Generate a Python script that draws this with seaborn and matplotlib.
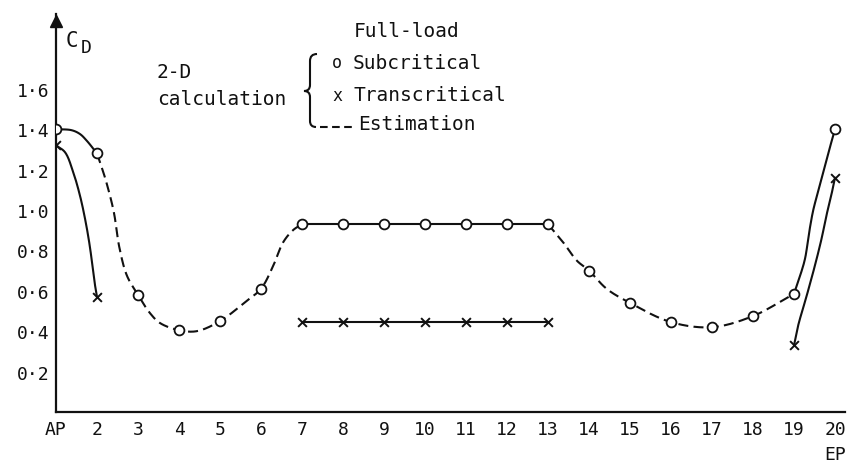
import numpy as np
import pandas as pd
import matplotlib
matplotlib.use("Agg")
import matplotlib.pyplot as plt
import matplotlib.transforms as mtransforms
from matplotlib.path import Path
from matplotlib.patches import PathPatch
from matplotlib.lines import Line2D
import seaborn as sns

# ---- data -------------------------------------------------------------
station_labels = ["AP", "2", "3", "4", "5", "6", "7", "8", "9", "10",
                  "11", "12", "13", "14", "15", "16", "17", "18", "19", "20\nEP"]
station_pos = list(range(1, 21))

# full-load, subcritical drag coefficient at every station
subcritical = [1.40, 1.28, 0.58, 0.405, 0.45, 0.61, 0.93, 0.93, 0.93, 0.93,
               0.93, 0.93, 0.93, 0.70, 0.54, 0.445, 0.42, 0.475, 0.585, 1.40]

# full-load, transcritical drag coefficient
trans_pos = [1, 2, 7, 8, 9, 10, 11, 12, 13, 19, 20]
transcritical = [1.32, 0.57, 0.445, 0.445, 0.445, 0.445, 0.445, 0.445, 0.445,
                 0.33, 1.16]

# points along the faired curves between stations
sub_aft_x = [1.38, 1.585, 1.75]
sub_aft_y = [1.395, 1.376, 1.343]
est_aft_x = [2.21, 2.41, 2.54, 2.73, 3.29, 3.54, 4.43, 5.65, 6.29, 6.54, 6.78]
est_aft_y = [1.15, 0.99, 0.82, 0.675, 0.49, 0.44, 0.40, 0.55, 0.72, 0.84, 0.90]
est_fwd_x = [13.37, 13.7, 14.43]
est_fwd_y = [0.84, 0.75, 0.61]
sub_fwd_x = [19.15, 19.27, 19.37, 19.47, 19.60, 19.78]
sub_fwd_y = [0.675, 0.76, 0.89, 1.00, 1.10, 1.24]
trans_aft_x = [1.22, 1.42, 1.585, 1.71, 1.81, 1.89, 1.95]
trans_aft_y = [1.286, 1.187, 1.071, 0.955, 0.84, 0.724, 0.63]
trans_fwd_x = [19.10, 19.31, 19.51, 19.67, 19.79, 19.89]
trans_fwd_y = [0.427, 0.576, 0.725, 0.856, 0.972, 1.055]

y_ticks = [0.2, 0.4, 0.6, 0.8, 1.0, 1.2, 1.4, 1.6]
y_tick_labels = ["0·2", "0·4", "0·6", "0·8", "1·0", "1·2", "1·4", "1·6"]

# ---- helpers ----------------------------------------------------------
X_PX, Y_PX = 41.0, 202.0   # drawn size of one station / one unit of C_D


def faired(xs, ys, n=30):
    """Centripetal Catmull-Rom curve through the given points."""
    pts = np.column_stack([np.asarray(xs, float) * X_PX,
                           np.asarray(ys, float) * Y_PX])
    ext = np.vstack([2 * pts[0] - pts[1], pts, 2 * pts[-1] - pts[-2]])
    segs = []
    for i in range(len(pts) - 1):
        p0, p1, p2, p3 = ext[i], ext[i + 1], ext[i + 2], ext[i + 3]
        t0 = 0.0
        t1 = t0 + np.linalg.norm(p1 - p0) ** 0.5
        t2 = t1 + np.linalg.norm(p2 - p1) ** 0.5
        t3 = t2 + np.linalg.norm(p3 - p2) ** 0.5
        t = np.linspace(t1, t2, n)[:, None]
        a1 = (t1 - t) / (t1 - t0) * p0 + (t - t0) / (t1 - t0) * p1
        a2 = (t2 - t) / (t2 - t1) * p1 + (t - t1) / (t2 - t1) * p2
        a3 = (t3 - t) / (t3 - t2) * p2 + (t - t2) / (t3 - t2) * p3
        b1 = (t2 - t) / (t2 - t0) * a1 + (t - t0) / (t2 - t0) * a2
        b2 = (t3 - t) / (t3 - t1) * a2 + (t - t1) / (t3 - t1) * a3
        c = (t2 - t) / (t2 - t1) * b1 + (t - t1) / (t2 - t1) * b2
        segs.append(c if i == 0 else c[1:])
    out = np.vstack(segs)
    return out[:, 0] / X_PX, out[:, 1] / Y_PX


def merged(pos, vals, first, last, gx, gy):
    xs = [p for p in pos if first <= p <= last] + list(gx)
    ys = [v for p, v in zip(pos, vals) if first <= p <= last] + list(gy)
    order = np.argsort(xs)
    return np.asarray(xs)[order], np.asarray(ys)[order]


# ---- figure -----------------------------------------------------------
sns.set_style("white")
plt.rcParams["font.family"] = ["DejaVu Sans Mono", "DejaVu Sans"]
plt.rcParams["lines.scale_dashes"] = False

W, H = 851, 464
fig = plt.figure(figsize=(W / 100, H / 100), dpi=100)
ax = fig.add_axes([56 / W, (H - 413) / H, (845 - 56) / W, (413 - 15) / H])
ax.set_xlim(1, 1 + (845 - 56) / X_PX)
ax.set_ylim(0, (413 - 15) / Y_PX)

ink = "#111111"
LW = 1.5
DASH = [7.2, 3.8]   # points


def curve(x, y, dashed=False):
    line, = ax.plot(x, y, color=ink, lw=LW, zorder=3, solid_capstyle="round")
    if dashed:
        line.set_dashes(DASH)
        line.set_dash_capstyle("butt")


# subcritical
curve(*faired(*merged(station_pos, subcritical, 1, 2, sub_aft_x, sub_aft_y)))
curve(*faired(*merged(station_pos, subcritical, 2, 7, est_aft_x, est_aft_y)), dashed=True)
curve(*merged(station_pos, subcritical, 7, 13, [], []))
curve(*faired(*merged(station_pos, subcritical, 13, 19, est_fwd_x, est_fwd_y)), dashed=True)
curve(*faired(*merged(station_pos, subcritical, 19, 20, sub_fwd_x, sub_fwd_y)))

# transcritical
curve(*faired(*merged(trans_pos, transcritical, 1, 2, trans_aft_x, trans_aft_y)))
curve(*merged(trans_pos, transcritical, 7, 13, [], []))
curve(*faired(*merged(trans_pos, transcritical, 19, 20, trans_fwd_x, trans_fwd_y)))

sns.scatterplot(x=station_pos, y=subcritical, marker="o", s=50,
                facecolor="white", edgecolor=ink, linewidth=1.3, zorder=5, ax=ax)
sns.scatterplot(x=trans_pos, y=transcritical, marker="x", s=40,
                color=ink, linewidth=1.4, zorder=5, ax=ax)

# axes
for side in ("top", "right"):
    ax.spines[side].set_visible(False)
for side in ("left", "bottom"):
    ax.spines[side].set_linewidth(1.6)
    ax.spines[side].set_color(ink)
ax.plot([0], [1.0 - 7 / (413 - 15)], marker="^", ms=9, color=ink,
        transform=ax.transAxes, clip_on=False, zorder=6)

ax.set_xticks(station_pos)
ax.set_xticklabels(station_labels, fontsize=13, linespacing=1.5)
ax.set_yticks(y_ticks)
ax.set_yticklabels(y_tick_labels, fontsize=13)
ax.tick_params(axis="x", direction="in", length=7, width=1.2, pad=6, colors=ink)
ax.tick_params(axis="y", direction="in", length=10, width=1.5, pad=5, colors=ink)
ax.set_xlabel("")
ax.set_ylabel("")

# annotations in pixel coordinates (origin top-left)
px = mtransforms.Affine2D().scale(1 / W, -1 / H).translate(0, 1) + fig.transFigure

fig.text(66, 47, "C", transform=px, fontsize=15, color=ink, va="baseline")
fig.text(81, 53, "D", transform=px, fontsize=13, color=ink, va="baseline")

fig.text(157, 78, "2-D", transform=px, fontsize=14, color=ink, va="baseline")
fig.text(157, 105, "calculation", transform=px, fontsize=14, color=ink, va="baseline")

fig.text(354, 37, "Full-load", transform=px, fontsize=14, color=ink, va="baseline")
fig.text(337, 63, "o", transform=px, fontsize=12, color=ink, ha="center", va="center")
fig.text(353, 69, "Subcritical", transform=px, fontsize=14, color=ink, va="baseline")
fig.text(337, 96, "x", transform=px, fontsize=12, color=ink, ha="center", va="center")
fig.text(353, 101, "Transcritical", transform=px, fontsize=14, color=ink, va="baseline")
fig.text(358, 130, "Estimation", transform=px, fontsize=14, color=ink, va="baseline")

# brace grouping the legend entries
brace = Path(
    [(317, 55), (310, 55), (310, 62),
     (310, 86),
     (310, 92), (304, 92),
     (310, 92), (310, 98),
     (310, 122),
     (310, 128), (316, 128)],
    [Path.MOVETO, Path.CURVE3, Path.CURVE3,
     Path.LINETO,
     Path.CURVE3, Path.CURVE3,
     Path.CURVE3, Path.CURVE3,
     Path.LINETO,
     Path.CURVE3, Path.CURVE3])
fig.add_artist(PathPatch(brace, transform=px, fill=False, lw=1.5, ec=ink))
est_key = Line2D([320, 356], [128, 128], transform=px, color=ink, lw=1.5)
est_key.set_dashes([5.5, 3.2])
fig.add_artist(est_key)

fig.savefig("out.png", dpi=100, facecolor="white")
